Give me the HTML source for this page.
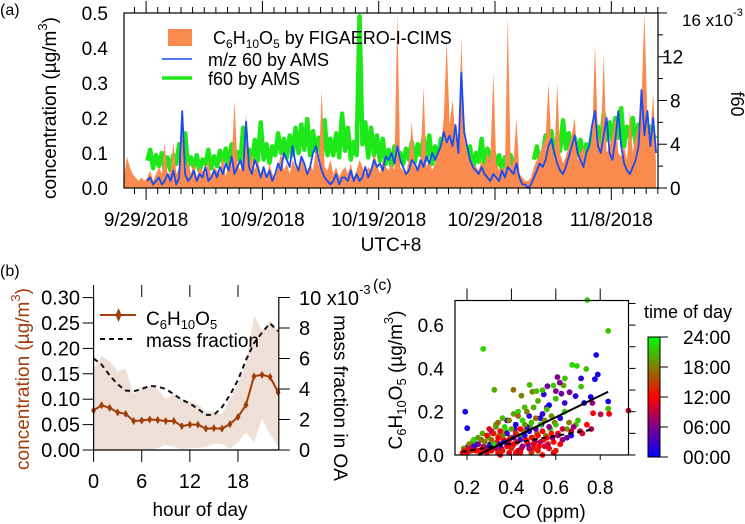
<!DOCTYPE html>
<html><head><meta charset="utf-8"><style>
html,body{margin:0;padding:0;background:#fff}
svg{display:block;font-family:"Liberation Sans",Arial,sans-serif}
</style></head><body>
<svg id="fig" width="745" height="524" viewBox="0 0 745 524" xmlns="http://www.w3.org/2000/svg">
<g id="pa"></g>
<g id="pb"></g>
<g id="pc"></g>
</svg>
<script>
// ---------- Panel (a) data (0.25-day steps from plot start) ----------
const orangeConc = [
.03,.09,.06,.04, .03,.02,.03,.02, .03,.05,.02,.04, .06,.04,.13,.03, .05,.13,.04,.06,
.16,.05,.08,.04, .07,.03,.06,.05, .04,.08,.03,.06, .05,.04,.09,.03, .08,.06,.25,.07,
.05,.09,.21,.06, .10,.05,.08,.04, .06,.02,.07,.04, .03,.06,.10,.05, .07,.04,.08,.06,
.05,.09,.06,.04, .07,.05,.11,.06, .28,.06,.05,.08, .04,.06,.03,.05, .06,.04,.07,.03,
.05,.08,.06,.04, .06,.05,.10,.07, .04,.08,.06,.05, .07,.05,.50,.06, .05,.04,.08,.19,
.06,.05,.07,.29, .06,.08,.05,.07, .10,.12,.20,.42, .18,.25,.15,.12, .43,.15,.10,.08,
.07,.06,.05,.08, .06,.10,.08,.33, .07,.05,.06,.05, .49,.06,.08,.20, .04,.03,.02,.02,
.03,.06,.08,.10, .12,.14,.30,.12, .08,.30,.10,.07, .09,.12,.15,.20, .08,.10,.12,.09,
.11,.14,.41,.15, .12,.38,.10,.12, .15,.20,.10,.09, .12,.08,.22,.10, .15,.18,.25,.50,
.20,.15,.27,.06];
const blueConc = [
null,null,null,null, null,null,null,null, .02,.03,.01,.02, .03,.01,.02,.04, .02,.05,.01,.03,
.22,.04,.02,.03, .05,.02,.04,.03, .06,.02,.03,.05, .03,.06,.04,.07, .05,.09,.04,.06,
.08,.05,.19,.06, .04,.08,.06,.03, .06,.03,.05,.02, .04,.07,.05,.10, .08,.06,.12,.07,
.05,.09,.07,.04, .06,.10,.12,.08, .05,.03,.02,.01, .02,.04,.01,.03, .03,.02,.05,.02,
.04,.02,.03,.06, .03,.05,.08,.06, .07,.05,.09,.08, .10,.07,.12,.08, .06,.04,.05,.08,
.07,.05,.08,.06, .09,.07,.10,.08, .10,.12,.16,.13, .15,.12,.18,.10, .33,.16,.12,.08,
.06,.05,.04,.06, .04,.03,.02,.04, .03,.02,.05,.03, .06,.05,.04,.07, .03,.01,.01,.00,
.01,.03,.05,.07, .06,.08,.12,.14, .10,.07,.05,.04, .06,.09,.12,.15, .10,.08,.06,.10,
.12,.18,.22,.12, .10,.15,.20,.10, .08,.14,.22,.12, .07,.05,.04,.06, .08,.12,.28,.15,
.22,.12,.20,.10];
const f60 = [ // x1e-3
null,null,null,null, null,null,null,null, 2.5,3.5,1.8,3.0, 2.0,3.2,1.7,2.8, 1.6,3.0,2.2,4.0,
1.8,5.0,2.0,2.8, 1.9,3.0,1.6,2.6, 2.2,3.5,1.8,2.9, 2.0,3.4,2.4,3.6, 1.9,4.0,2.2,3.3,
2.4,5.5,2.6,3.5, 2.2,4.4,2.5,6.0, 2.6,4.0,2.3,3.8, 3.0,5.0,3.2,4.5, 2.8,4.8,3.0,5.5,
3.2,5.8,3.5,6.3, 3.0,5.2,3.4,4.6, 2.6,6.2,3.0,4.5, 3.0,5.0,2.8,6.8, 3.4,5.5,2.6,4.2,
3.0,15.7,4.0,6.0, 2.8,5.5,3.0,4.8, 2.5,4.5,2.2,3.5, 2.0,3.8,1.9,3.2, 2.2,3.6,2.6,4.2,
2.4,4.0,3.0,4.6, 2.6,4.8,2.2,3.8, 2.4,4.5,3.0,4.2, 3.2,5.0,2.6,4.4, 2.0,4.0,1.6,3.8,
1.5,3.2,2.4,4.5, 2.0,3.6,2.8,3.4, 2.0,3.0,1.6,2.8, 2.0,3.0,1.8,2.6, null,null,null,null,
null,2.6,3.8,2.4, 3.0,4.8,3.6,5.2, 3.0,4.4,3.4,6.2, 3.6,5.0,3.2,4.6, 3.0,4.4,2.6,4.0,
3.2,5.0,3.6,5.6, 3.8,6.8,4.4,6.0, 4.2,6.4,4.6,7.3, 3.8,5.6,4.6,6.4, 4.0,5.8,4.4,5.2,
4.2,5.6,4.6,4.8];
const dateLabels = ['9/29/2018','10/9/2018','10/19/2018','10/29/2018','11/8/2018'];
const dateDays = [1.9,11.9,21.9,31.9,41.9];
const concTicksA = [0,0.1,0.2,0.3,0.4,0.5];
const f60Ticks = [0,4,8,12,16];

// ---------- Panel (b) data (hour 0..23) ----------
const hours = [0,1,2,3,4,5,6,7,8,9,10,11,12,13,14,15,16,17,18,19,20,21,22,23];
const diurnalConc = [0.078,0.088,0.083,0.074,0.071,0.057,0.058,0.060,0.059,0.057,0.057,0.047,0.050,0.050,0.042,0.043,0.042,0.051,0.065,0.089,0.145,0.148,0.144,0.114];
const massFrac = [6.0,5.6,4.9,4.3,3.9,3.85,4.0,4.2,4.15,4.0,3.65,3.3,3.05,2.7,2.3,2.3,2.8,3.6,4.6,5.9,7.0,7.7,8.3,7.8];
const bandUpper = [0.16,0.185,0.175,0.155,0.16,0.11,0.125,0.125,0.12,0.10,0.11,0.10,0.095,0.09,0.075,0.075,0.07,0.10,0.13,0.17,0.265,0.235,0.255,0.235];
const bandLower = [0.0,0.0,0.0,0.0,0.0,0.0,0.0,0.0,0.004,0.01,0.006,0.002,0.004,0.004,0.006,0.012,0.012,0.002,0.015,0.035,0.015,0.062,0.03,0.008];
const concTicksB = [0,0.05,0.10,0.15,0.20,0.25,0.30];
const fracTicksB = [0,2,4,6,8,10];
const hourTicks = [0,6,12,18];

// ---------- Panel (c) data ----------
const scCO = [0.742,0.836,0.273,0.782,0.674,0.695,0.737,0.789,0.607,0.641,0.714,0.776,0.618,0.589,0.635,0.562,0.482,0.714,0.409,0.323,0.513,0.494,0.54,0.6,0.625,0.546,0.662,0.445,0.689,0.757,0.836,0.728,0.765,0.192,0.927,0.84,0.768,0.802,0.201,0.836,
0.18,0.19,0.20,0.21,0.22,0.23,0.24,0.25,0.26,0.27,0.28,0.28,0.29,0.30,0.30,0.31,0.31,0.32,0.32,0.33,0.33,0.34,0.34,0.35,0.35,0.36,0.36,0.37,0.37,0.38,0.38,0.39,0.39,0.40,0.40,0.41,0.41,0.42,0.42,0.43,0.43,0.44,0.44,0.45,0.45,0.46,0.46,0.47,0.47,0.48,0.48,0.49,0.49,0.50,0.50,0.51,0.51,0.52,0.52,0.53,0.53,0.54,0.54,0.55,0.55,0.56,0.56,0.57,0.57,0.58,0.58,0.59,0.60,0.60,0.61,0.62,0.62,0.63,0.64,0.65,0.66,0.67,0.68,0.70,0.72,0.74,0.76,0.25,0.27,0.29,0.34,0.39,0.44,0.49,0.54,0.59,0.21,0.23,0.36,0.41,0.46,0.31,0.47,0.53,0.57,
0.185,0.195,0.205,0.215,0.225,0.235,0.245,0.255,0.265,0.275,0.285,0.295,0.305,0.315,0.325,0.335,0.345,0.355,0.365,0.375,0.385,0.395,0.405,0.415,0.425,0.435,0.445,0.455,0.465,0.475,0.485,0.495,0.505,0.515,0.525,0.535,0.545,0.555,0.565,0.575,0.585,0.595,0.61,0.63,0.65,0.67,0.69,0.71,0.33,0.38,0.43,0.48,0.52,0.56,0.60,0.64,0.44,0.50,0.35,0.42];
const scConc = [0.716,0.573,0.49,0.462,0.416,0.411,0.397,0.372,0.36,0.354,0.354,0.35,0.334,0.321,0.321,0.318,0.324,0.316,0.301,0.301,0.295,0.292,0.3,0.295,0.283,0.28,0.29,0.274,0.272,0.268,0.247,0.24,0.24,0.2,0.205,0.19,0.193,0.188,0.124,0.214,
0.01,0.02,0.01,0.03,0.02,0.04,0.02,0.05,0.01,0.03,0.06,0.02,0.09,0.04,0.12,0.07,0.02,0.05,0.10,0.13,0.03,0.08,0.15,0.05,0.11,0.02,0.09,0.06,0.13,0.04,0.10,0.16,0.07,0.03,0.12,0.08,0.05,0.14,0.10,0.02,0.18,0.07,0.12,0.04,0.16,0.09,0.14,0.06,0.20,0.11,0.03,0.15,0.08,0.22,0.05,0.12,0.17,0.09,0.02,0.14,0.06,0.19,0.11,0.04,0.16,0.08,0.21,0.13,0.03,0.10,0.18,0.06,0.14,0.02,0.09,0.17,0.05,0.12,0.20,0.08,0.15,0.11,0.13,0.16,0.10,0.14,0.12,0.08,0.10,0.01,0.01,0.01,0.01,0.01,0.0,0.01,0.05,0.07,0.17,0.19,0.22,0.11,0.13,0.17,0.23,
0.03,0.01,0.04,0.02,0.06,0.03,0.05,0.02,0.07,0.04,0.03,0.08,0.05,0.10,0.04,0.06,0.09,0.03,0.07,0.11,0.05,0.08,0.04,0.12,0.06,0.09,0.03,0.11,0.07,0.05,0.13,0.08,0.06,0.10,0.04,0.14,0.07,0.09,0.05,0.12,0.08,0.15,0.10,0.07,0.12,0.09,0.14,0.11,0.14,0.16,0.20,0.18,0.25,0.22,0.26,0.24,0.02,0.03,0.00,0.01];
const scHour = [22,21,22,1,22,22,21,1,6,21,2,1,6,22,20,5,21,21,17,20,21,18,21,6,5,2,6,18,2,1,1,1,7,1,10,12,12,9,1,21,
12,13,11,10,14,3,12,5,13,11,18,9,12,2,11,17,12,22,13,19,8,12,17,1,12,13,18,3,22,12,2,18,11,14,20,5,12,1,13,10,17,3,12,7,22,2,19,12,18,1,8,21,13,20,11,4,17,12,13,22,9,2,12,10,18,12,21,6,11,13,19,12,21,13,8,2,12,10,22,5,18,9,7,21,10,12,8,19,20,12,13,11,12,14,12,10,18,22,21,20,21,5,3,1,0,
18,12,5,11,20,13,3,12,17,8,12,21,2,18,11,13,19,6,12,22,1,17,12,4,13,20,10,18,12,3,21,11,7,17,12,2,13,19,9,22,5,18,12,7,20,1,21,10,19,4,22,2,20,6,21,3,12,13,11,12];
const fitSolid = {slope:0.499, intercept:-0.125, x0:0.251, x1:0.836};
const fitDashed = {slope:0.174, intercept:-0.016, x0:0.176, x1:0.773};
const coTicks = [0.2,0.4,0.6,0.8];
const concTicksC = [0.0,0.2,0.4,0.6];
const cbLabels = ['00:00','06:00','12:00','18:00','24:00'];
const cbHours = [0,6,12,18,24];

const NS='http://www.w3.org/2000/svg';
function mk(parent,tag,attrs,text){const e=document.createElementNS(NS,tag);for(const k in attrs)e.setAttribute(k,attrs[k]);if(text!==undefined)e.textContent=text;parent.appendChild(e);return e;}

// ===== Panel A =====
const pa=document.getElementById('pa');
const aL=124,aR=658,aT=13,aB=188,dayPx=11.63;
const xA=d=>aL+d*dayPx, yA=c=>aB-c*350, yF=f=>aB-f*10.94;
const stepDays=0.25;
let gd='',pen=false;
f60.forEach((v,i)=>{if(v===null){pen=false;return;}const x=xA(i*stepDays),y=yF(v);gd+=(pen?'L':'M')+x.toFixed(1)+','+y.toFixed(1);pen=true;});
let gEl=mk(pa,'path',{d:gd,fill:'none',stroke:'#1ee81a','stroke-width':4.5,'stroke-linejoin':'round'});


let od='M'+xA(0)+','+aB;
orangeConc.forEach((v,i)=>{od+='L'+xA(i*stepDays).toFixed(1)+','+yA(v).toFixed(1);});
od+='L'+xA((orangeConc.length-1)*stepDays).toFixed(1)+','+aB+'Z';
let oEl=mk(pa,'path',{d:od,fill:'#fa8a4e',stroke:'none'});


let bd='';pen=false;
blueConc.forEach((v,i)=>{if(v===null){pen=false;return;}bd+=(pen?'L':'M')+xA(i*stepDays).toFixed(1)+','+yA(v).toFixed(1);pen=true;});
let bEl=mk(pa,'path',{d:bd,fill:'none',stroke:'#1a4cf0','stroke-width':1.8,'stroke-linejoin':'round'});


mk(pa,'rect',{x:aL,y:aT,width:aR-aL,height:aB-aT,fill:'none',stroke:'#000','stroke-width':1.2});
for(let d=dateDays[0]-1;d<=45.9;d+=1){const x=xA(d);const maj=dateDays.some(m=>Math.abs(m-d)<0.01);
 mk(pa,'line',{x1:x,x2:x,y1:aB,y2:aB+(maj?12:6),stroke:'#000','stroke-width':1});
 mk(pa,'line',{x1:x,x2:x,y1:aT,y2:aT-(maj?12:6),stroke:'#000','stroke-width':1});}
dateLabels.forEach((t,i)=>{const e=mk(pa,'text',{x:xA(dateDays[i]),y:226,'font-size':19,'text-anchor':'middle'},t);
 
 });
concTicksA.forEach(v=>{const e=mk(pa,'text',{x:108,y:yA(v)+7,'font-size':19,'text-anchor':'end'},v.toFixed(1));
 
 });
for(let f=0;f<=16;f+=2){const maj=f%4===0;mk(pa,'line',{x1:aR,x2:aR+(maj?9:5),y1:yF(f),y2:yF(f),stroke:'#000','stroke-width':1});}
f60Ticks.forEach(v=>{if(v===16)return;const e=mk(pa,'text',{x:(v>=10?662:670),y:yF(v)+7,'font-size':19},String(v));
 
 });
</script>
<script>
(function(){const pa=document.getElementById('pa');
pa.insertAdjacentHTML('beforeend',`
<text x="682" y="26" font-size="17">16 x10<tspan dy="-10" font-size="11">-3</tspan></text>
<text x="0" y="15" font-size="16">(a)</text>
<text transform="translate(56,108) rotate(-90)" font-size="19" text-anchor="middle">concentration (µg/m<tspan dy="-9" font-size="13">3</tspan><tspan dy="9">)</tspan></text>
<text transform="translate(731,104) rotate(90)" font-size="18" text-anchor="middle">f60</text>
<text x="391" y="251" font-size="19" text-anchor="middle">UTC+8</text>
<g>
<rect x="168" y="29" width="24" height="17" fill="#fa8a4e"/>
<text x="213" y="44" font-size="18">C<tspan font-size="12" dy="4">6</tspan><tspan dy="-4">H</tspan><tspan font-size="12" dy="4">10</tspan><tspan dy="-4">O</tspan><tspan font-size="12" dy="4">5</tspan><tspan dy="-4"> by FIGAERO-I-CIMS</tspan></text>
<line x1="162" x2="192" y1="59" y2="59" stroke="#1a4cf0" stroke-width="1.5"/>
<text x="208" y="66" font-size="18">m/z 60 by AMS</text>
<line x1="162" x2="192" y1="78" y2="78" stroke="#1ee81a" stroke-width="3.5"/>
<text x="208" y="85" font-size="18">f60 by AMS</text>
</g>`);})();
</script>
<script>
// ===== Panel B =====
(function(){
const pb=document.getElementById('pb');
const bL=93.6,bR=278.8,bB=450;
const xB=h=>bL+h*8.02, yB=c=>bB-c*508, yR=f=>bB-f*15.25;
const brown='#a23d0c';
let bandD='M';
hours.forEach((h,i)=>{bandD+=(i?'L':'')+xB(h).toFixed(1)+','+yB(bandUpper[i]).toFixed(1);});
for(let i=hours.length-1;i>=0;i--)bandD+='L'+xB(hours[i]).toFixed(1)+','+yB(bandLower[i]).toFixed(1);
bandD+='Z';
const band=mk(pb,'path',{d:bandD,fill:'#efe0d7',stroke:'none'});


let md='';hours.forEach((h,i)=>{md+=(i?'L':'M')+xB(h).toFixed(1)+','+yR(massFrac[i]).toFixed(1);});
const mf=mk(pb,'path',{d:md,fill:'none',stroke:'#111','stroke-width':2,'stroke-dasharray':'5,4'});


let cd='';hours.forEach((h,i)=>{cd+=(i?'L':'M')+xB(h).toFixed(1)+','+yB(diurnalConc[i]).toFixed(1);});
const cl=mk(pb,'path',{d:cd,fill:'none',stroke:brown,'stroke-width':2});


hours.forEach((h,i)=>{const x=xB(h),y=yB(diurnalConc[i]);
 const m=mk(pb,'path',{d:`M${x},${y-4}L${x+2.5},${y}L${x},${y+4}L${x-2.5},${y}Z`,fill:brown});
 
 });
mk(pb,'line',{x1:bL,x2:bL,y1:297,y2:bB,stroke:'#000','stroke-width':1.2});
mk(pb,'line',{x1:bR,x2:bR,y1:297,y2:bB,stroke:'#000','stroke-width':1.2});
mk(pb,'line',{x1:bL,x2:bR,y1:bB,y2:bB,stroke:'#000','stroke-width':1.2});
concTicksB.forEach(v=>{const y=yB(v);mk(pb,'line',{x1:bL-11,x2:bL,y1:y,y2:y,stroke:'#000'});
 const e=mk(pb,'text',{x:80,y:y+7,'font-size':20,'text-anchor':'end'},v.toFixed(2));
 
 });
fracTicksB.forEach(v=>{const y=yR(v);mk(pb,'line',{x1:bR,x2:bR+11,y1:y,y2:y,stroke:'#000'});
 if(v===10)return;
 const e=mk(pb,'text',{x:299,y:y+7,'font-size':20},String(v));
 
 });
hourTicks.forEach(h=>{const x=xB(h);mk(pb,'line',{x1:x,x2:x,y1:bB,y2:bB+12,stroke:'#000'});
 mk(pb,'line',{x1:x,x2:x,y1:285,y2:297,stroke:'#000'});
 const e=mk(pb,'text',{x:x,y:488,'font-size':20,'text-anchor':'middle'},String(h));
 
 });
pb.insertAdjacentHTML('beforeend',`
<text x="299" y="305" font-size="20">10 x10<tspan dy="-11" font-size="13">-3</tspan></text>
<text x="0" y="276" font-size="16">(b)</text>
<text transform="translate(29,379) rotate(-90)" font-size="19" fill="${brown}" text-anchor="middle">concentration (µg/m<tspan dy="-9" font-size="13">3</tspan><tspan dy="9">)</tspan></text>
<text transform="translate(334,398) rotate(90)" font-size="19" text-anchor="middle">mass fraction in OA</text>
<text x="200" y="516" font-size="19" text-anchor="middle">hour of day</text>
<g>
<line x1="100" x2="136" y1="315" y2="315" stroke="${brown}" stroke-width="2"/>
<path d="M118.5,308L121.5,315L118.5,322L115.5,315Z" fill="${brown}"/>
<text x="146" y="325" font-size="19">C<tspan font-size="13" dy="4">6</tspan><tspan dy="-4">H</tspan><tspan font-size="13" dy="4">10</tspan><tspan dy="-4">O</tspan><tspan font-size="13" dy="4">5</tspan></text>
<line x1="100" x2="136" y1="339" y2="339" stroke="#111" stroke-width="2" stroke-dasharray="5,4"/>
<text x="146" y="347" font-size="19">mass fraction</text>
</g>`);
})();
</script>
<script>
// ===== Panel C =====
(function(){
const pc=document.getElementById('pc');
const cL=455,cR=628.5,cT=300.5,cB=455;
const xC=v=>467+(v-0.2)*222, yC=v=>cB-v*216.5;
const stops=[[0,[0,0,255]],[6,[128,0,140]],[12,[255,0,0]],[18,[128,128,0]],[24,[0,255,0]]];
function hourColor(h){for(let i=0;i<stops.length-1;i++){const a=stops[i],b=stops[i+1];if(h<=b[0]){const t=(h-a[0])/(b[0]-a[0]);const c=a[1].map((v,k)=>Math.round(v+(b[1][k]-v)*t));return `rgb(${c[0]},${c[1]},${c[2]})`;}}return 'rgb(0,255,0)';}
for(let i=scCO.length-1;i>=0;i--){
 const p=mk(pc,'circle',{cx:xC(scCO[i]).toFixed(1),cy:yC(scConc[i]).toFixed(1),r:2.9,fill:hourColor(scHour[i])});
 
 }
const s=mk(pc,'line',{x1:xC(fitSolid.x0),y1:yC(fitSolid.slope*fitSolid.x0+fitSolid.intercept),x2:xC(fitSolid.x1),y2:yC(fitSolid.slope*fitSolid.x1+fitSolid.intercept),stroke:'#000','stroke-width':2});


const dl=mk(pc,'line',{x1:xC(fitDashed.x0),y1:yC(fitDashed.slope*fitDashed.x0+fitDashed.intercept),x2:xC(fitDashed.x1),y2:yC(fitDashed.slope*fitDashed.x1+fitDashed.intercept),stroke:'#000','stroke-width':2,'stroke-dasharray':'5,4'});


mk(pc,'rect',{x:cL,y:cT,width:cR-cL,height:cB-cT,fill:'none',stroke:'#000','stroke-width':1.2});
coTicks.forEach(v=>{const x=xC(v);mk(pc,'line',{x1:x,x2:x,y1:cT-12,y2:cT,stroke:'#000'});mk(pc,'line',{x1:x,x2:x,y1:cB,y2:cB+5,stroke:'#000'});
 const e=mk(pc,'text',{x:x,y:494,'font-size':19,'text-anchor':'middle'},v.toFixed(1));
 
 });
concTicksC.forEach(v=>{const e=mk(pc,'text',{x:444,y:yC(v)+7,'font-size':19,'text-anchor':'end'},v.toFixed(1));
 
 });
for(let v=0;v<=0.71;v+=0.1){const y=yC(v);mk(pc,'line',{x1:cR,x2:cR+7,y1:y,y2:y,stroke:'#000'});}
const cbT=337,cbBt=457,cbX=648,cbW=12;
pc.insertAdjacentHTML('beforeend',`<defs><linearGradient id="cbg" x1="0" y1="1" x2="0" y2="0">
<stop offset="0" stop-color="rgb(0,0,255)"/><stop offset="0.25" stop-color="rgb(128,0,140)"/><stop offset="0.5" stop-color="rgb(255,0,0)"/><stop offset="0.75" stop-color="rgb(128,128,0)"/><stop offset="1" stop-color="rgb(0,255,0)"/></linearGradient></defs>
<rect x="${cbX}" y="${cbT}" width="${cbW}" height="${cbBt-cbT}" fill="url(#cbg)" stroke="#000" stroke-width="1"/>`);
cbHours.forEach((h,i)=>{const y=cbBt-(h/24)*(cbBt-cbT);mk(pc,'line',{x1:cbX+cbW,x2:cbX+cbW+8,y1:y,y2:y,stroke:'#000'});
 const e=mk(pc,'text',{x:683,y:y+7,'font-size':19},cbLabels[i]);
 
 });
pc.insertAdjacentHTML('beforeend',`
<text x="373" y="290" font-size="16">(c)</text>
<text x="688" y="318" font-size="18" text-anchor="middle">time of day</text>
<text transform="translate(402,380) rotate(-90)" font-size="19" text-anchor="middle">C<tspan font-size="13" dy="4">6</tspan><tspan dy="-4">H</tspan><tspan font-size="13" dy="4">10</tspan><tspan dy="-4">O</tspan><tspan font-size="13" dy="4">5</tspan><tspan dy="-4"> (µg/m</tspan><tspan dy="-9" font-size="13">3</tspan><tspan dy="9">)</tspan></text>
<text x="544" y="518" font-size="19" text-anchor="middle">CO (ppm)</text>`);
})();
</script>
</body></html>
